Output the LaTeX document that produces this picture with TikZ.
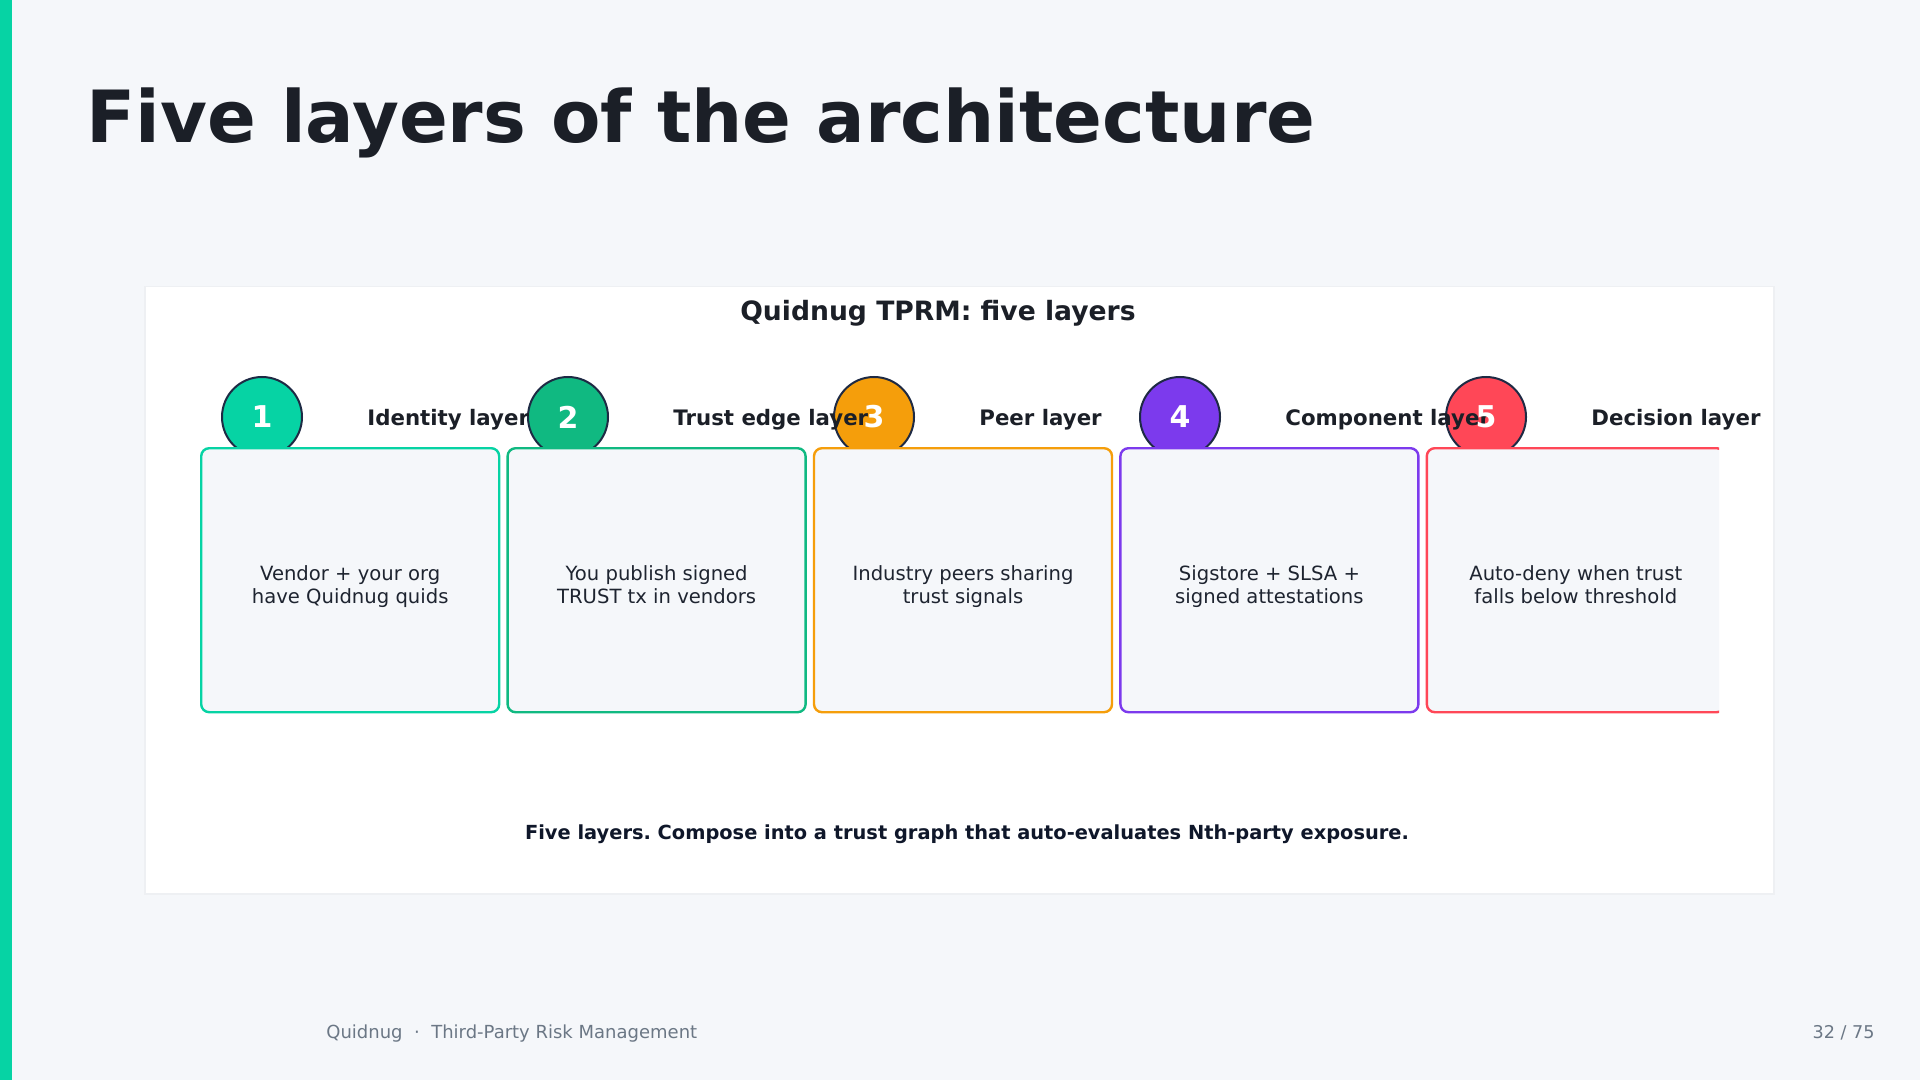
\documentclass[tikz,border=0pt]{standalone}
\usepackage{fontspec}
\setmainfont{DejaVu Sans}
\frenchspacing
\usetikzlibrary{positioning}
\definecolor{qpage}{HTML}{F5F7FA}
\definecolor{qshade}{HTML}{EEF0F3}
\definecolor{qink}{HTML}{1B1F27}
\definecolor{qnavy}{HTML}{1E2A44}
\definecolor{qbody}{HTML}{1E2430}
\definecolor{qcap}{HTML}{0F172A}
\definecolor{qmuted}{HTML}{6B7785}
\definecolor{qteal}{HTML}{06D3A4}
\definecolor{qgreen}{HTML}{10B981}
\definecolor{qamber}{HTML}{F59E0B}
\definecolor{qviolet}{HTML}{7C3AED}
\definecolor{qred}{HTML}{FF4757}
\tikzset{
  layerbox/.style={rounded corners=4pt, fill=qpage, line width=1.2pt, minimum width=149pt,
                   minimum height=132pt, align=center, text=qbody, inner sep=0pt,
                   font=\fontsize{9.8}{11.7}\selectfont,
                   execute at begin node={\rule{0pt}{26pt}},
                   execute at end node={\rule[-2.6pt]{0pt}{0pt}}},
  badge/.style={circle, draw=qnavy, line width=1pt, minimum size=40pt, inner sep=0pt},
  badgenum/.style={text=white, inner sep=0pt, font=\fontsize{15}{15}\selectfont\bfseries},
  layertitle/.style={anchor=base west, inner sep=0pt, text=qink,
                     font=\fontsize{10.65}{12}\selectfont\bfseries},
}

\begin{document}
\begin{tikzpicture}[x=0.5pt, y=-0.5pt]
  \useasboundingbox (0,0) rectangle (1920,1080);
  \fill[qpage] (0,0) rectangle (1920,1080);
  \fill[qteal] (0,0) rectangle (12,1080);
  \fill[qshade] (144,286) rectangle (1775,895);
  \fill[white] (146,287) rectangle (1773,893);

  \node[anchor=base west, inner sep=0pt, text=qink, font=\fontsize{36}{40}\selectfont\bfseries] (title) at (86,143) {Five layers of the architecture};
  \node[inner sep=0pt, text=qink, font=\fontsize{13.3}{15}\selectfont\bfseries] (ptitle) at (938,313.5) {Quidnug TPRM: five layers};

  \node[badge, fill=qteal] (dot1) at (262,417) {};
  \node[badge, fill=qgreen] (dot2) at (568,417) {};
  \node[badge, fill=qamber] (dot3) at (874,417) {};
  \node[badge, fill=qviolet] (dot4) at (1180,417) {};
  \node[badge, fill=qred] (dot5) at (1486,417) {};

  \begin{scope}
    \clip (146,287) rectangle (1719,893);
    \node[layerbox, draw=qteal, anchor=north west] (box1) at ([shift={(-62,30)}]dot1.center) {Vendor + your org\\have Quidnug quids};
    \node[layerbox, draw=qgreen, right=3pt of box1] (box2) {You publish signed\\TRUST tx in vendors};
    \node[layerbox, draw=qamber, right=3pt of box2] (box3) {Industry peers sharing\\trust signals};
    \node[layerbox, draw=qviolet, right=3pt of box3] (box4) {Sigstore + SLSA +\\signed attestations};
    \node[layerbox, draw=qred, right=3pt of box4] (box5) {Auto-deny when trust\\falls below threshold};
  \end{scope}

  \node[layertitle] (lab1) at ([shift={(105,8)}]dot1.center) {Identity layer};
  \node[layertitle] (lab2) at ([shift={(105,8)}]dot2.center) {Trust edge layer};
  \node[layertitle] (lab3) at ([shift={(105,8)}]dot3.center) {Peer layer};
  \node[layertitle] (lab4) at ([shift={(105,8)}]dot4.center) {Component layer};
  \node[layertitle] (lab5) at ([shift={(105,8)}]dot5.center) {Decision layer};

  \node[badgenum] (num1) at (dot1) {1};
  \node[badgenum] (num2) at (dot2) {2};
  \node[badgenum] (num3) at (dot3) {3};
  \node[badgenum] (num4) at (dot4) {4};
  \node[badgenum] (num5) at (dot5) {5};

  \node[inner sep=0pt, text=qcap, font=\fontsize{9.7}{11}\selectfont\bfseries] (caption) at (967,834) {Five layers. Compose into a trust graph that auto-evaluates Nth-party exposure.};
  \node[anchor=base west, inner sep=0pt, text=qmuted, font=\fontsize{9}{10}\selectfont] (foot) at (326,1038) {Quidnug\ \ ·\ \ Third-Party Risk Management};
  \node[anchor=base east, inner sep=0pt, text=qmuted, font=\fontsize{8.8}{10}\selectfont] (page) at (1875,1038) {32 / 75};
\end{tikzpicture}
\end{document}
